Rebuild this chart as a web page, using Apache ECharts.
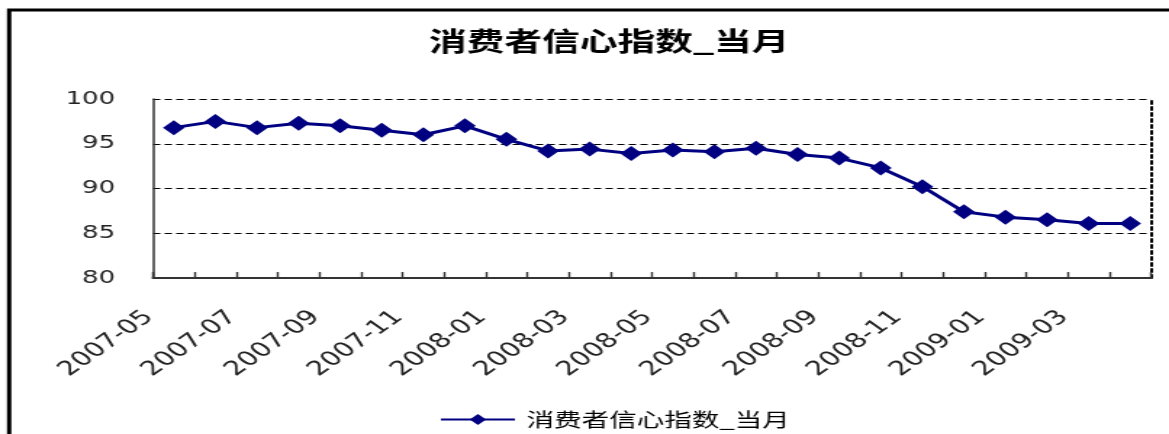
<!DOCTYPE html>
<html>
<head>
<meta charset="utf-8">
<title>消费者信心指数_当月</title>
<script src="https://cdn.jsdelivr.net/npm/echarts@6/dist/echarts.min.js"></script>
<style>
  html, body { margin: 0; padding: 0; background: #fff; overflow: hidden; }
  /* chart is laid out on a narrower canvas and widened horizontally */
  #chart { width: 806px; height: 434px; transform: scaleX(1.4504); transform-origin: 0 0; }
</style>
</head>
<body>
<div id="chart"></div>
<script>
// Monthly consumer confidence index
const months = [
  '2007-05', '2007-06', '2007-07', '2007-08', '2007-09', '2007-10',
  '2007-11', '2007-12', '2008-01', '2008-02', '2008-03', '2008-04',
  '2008-05', '2008-06', '2008-07', '2008-08', '2008-09', '2008-10',
  '2008-11', '2008-12', '2009-01', '2009-02', '2009-03', '2009-04'
];
const cciValues = [
  96.8, 97.5, 96.8, 97.3, 97.0, 96.5,
  96.0, 97.0, 95.5, 94.2, 94.4, 93.9,
  94.3, 94.1, 94.5, 93.8, 93.4, 92.3,
  90.2, 87.4, 86.8, 86.5, 86.1, 86.1
];
const seriesName = '消费者信心指数_当月';
const chartTitle = '消费者信心指数_当月';
const yMin = 80, yMax = 100, yStep = 5;

const chart = echarts.init(document.getElementById('chart'), null, { renderer: 'canvas' });

const option = {
  animation: false,
  backgroundColor: '#fff',
  title: {
    text: chartTitle,
    left: 415,
    textAlign: 'center',
    top: 23,
    textStyle: {
      fontFamily: '"Noto Sans CJK SC", sans-serif',
      fontSize: 26,
      fontWeight: 'bold',
      color: '#000'
    }
  },
  legend: {
    data: [seriesName],
    left: 298,
    top: 405,
    itemWidth: 51,
    itemHeight: 14,
    itemStyle: { borderWidth: 0 },
    textStyle: {
      fontFamily: '"Noto Sans CJK SC", sans-serif',
      fontSize: 19,
      padding: [0, 0, 0, 3],
      color: '#000'
    }
  },
  graphic: [{
    type: 'rect',
    silent: true,
    shape: { x: 6.3, y: 10, width: 900, height: 500 },
    style: { fill: 'none', stroke: '#000', lineWidth: 3 }
  }],
  grid: {
    left: 105.5,
    right: 12.4,
    top: 99,
    bottom: 156,
    outerBoundsMode: 'none'
  },
  xAxis: {
    type: 'category',
    data: months,
    boundaryGap: true,
    axisLine: { show: true, lineStyle: { color: '#333', width: 2 } },
    axisTick: { show: true, inside: true, length: 6, interval: 0, lineStyle: { color: '#333', width: 1.4 } },
    axisLabel: {
      interval: 1,
      rotate: 45,
      margin: 19,
      padding: [0, 24, 0, 0],
      fontFamily: '"DejaVu Sans", sans-serif',
      fontSize: 20,
      color: '#222'
    },
    splitLine: { show: false }
  },
  yAxis: [{
    type: 'value',
    min: yMin,
    max: yMax,
    interval: yStep,
    axisLine: { show: true, lineStyle: { color: '#333', width: 1.5 } },
    axisTick: { show: false },
    axisLabel: {
      margin: 26,
      padding: [0, 0, 13, 0],
      fontFamily: '"DejaVu Sans", sans-serif',
      fontSize: 18,
      color: '#222'
    },
    splitLine: { show: true, lineStyle: { color: '#000', width: 1, type: [5, 3] } }
  }, {
    type: 'value',
    position: 'right',
    min: yMin,
    max: yMax,
    interval: yStep,
    axisLine: { show: true, lineStyle: { color: '#000', width: 2, type: [3, 3] } },
    axisTick: { show: false },
    axisLabel: { show: false },
    splitLine: { show: false }
  }],
  series: [{
    name: seriesName,
    type: 'line',
    data: cciValues,
    yAxisIndex: 0,
    symbol: 'diamond',
    symbolSize: 15,
    itemStyle: { color: '#000080' },
    lineStyle: { color: '#000080', width: 3 }
  }]
};

chart.setOption(option);
</script>
</body>
</html>
